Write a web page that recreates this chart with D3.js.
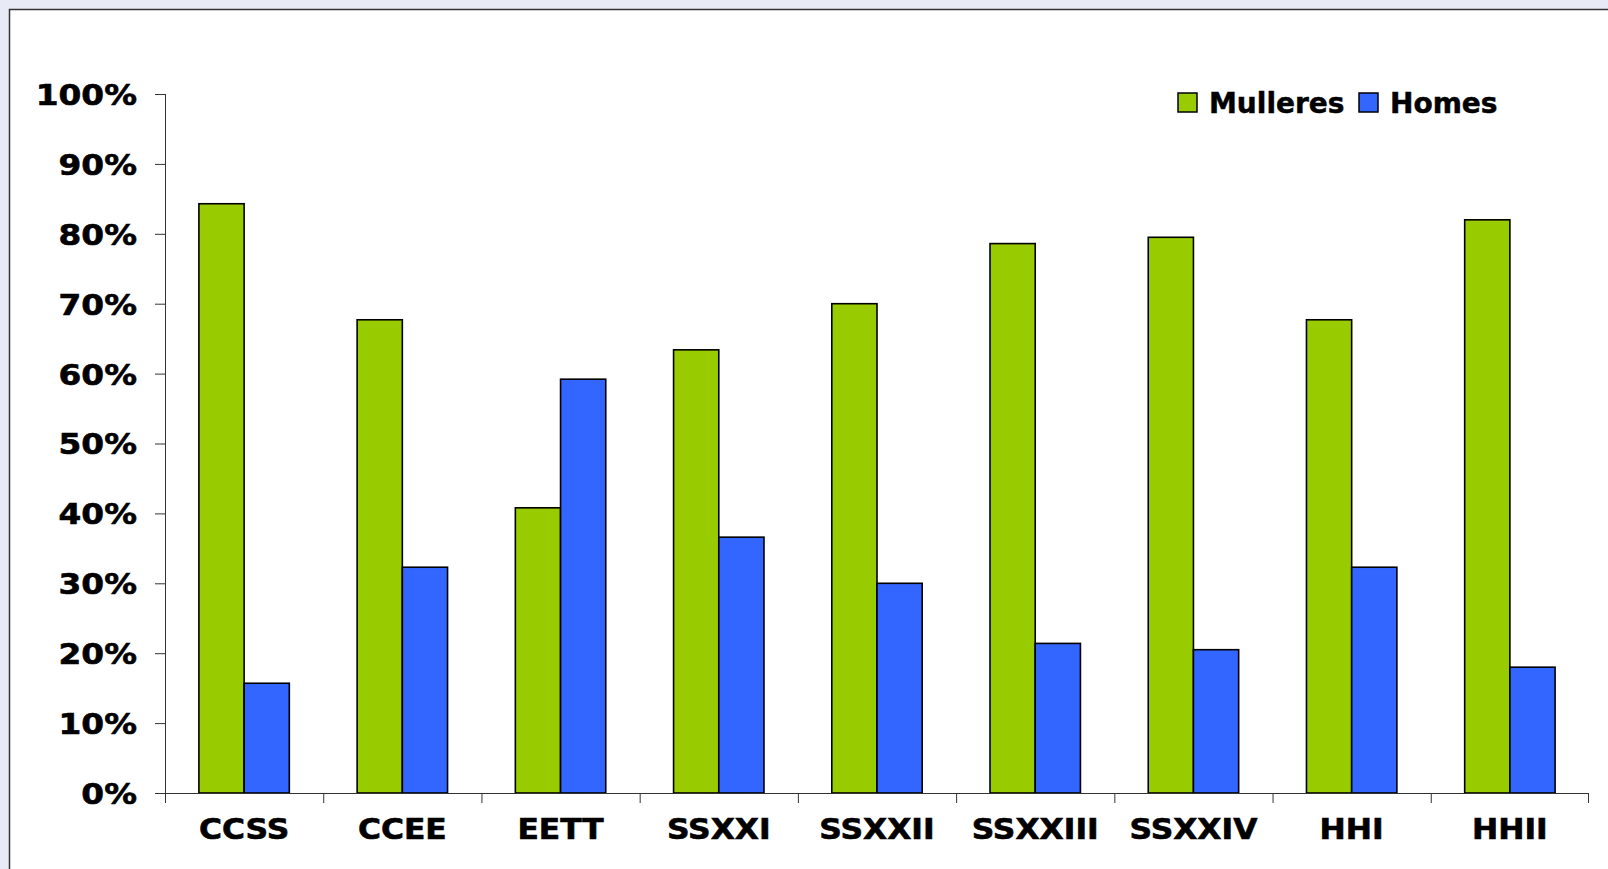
<!DOCTYPE html>
<html>
<head>
<meta charset="utf-8">
<script src="https://cdn.jsdelivr.net/npm/d3@7"></script>
<style>
  body { margin: 0; background: #e8eaf6; overflow: hidden; }
  svg { display: block; }
  text { font-family: "DejaVu Sans", Verdana, sans-serif; font-weight: bold; fill: #000; }
</style>
</head>
<body>
<div id="chart"></div>
<script>
// chart data
var categories = ["CCSS", "CCEE", "EETT", "SSXXI", "SSXXII", "SSXXIII", "SSXXIV", "HHI", "HHII"];
var mulleres = [84.3, 67.7, 40.8, 63.4, 70.0, 78.6, 79.5, 67.7, 82.0];
var homes = [15.7, 32.3, 59.2, 36.6, 30.0, 21.4, 20.5, 32.3, 18.0];
var seriesNames = ["Mulleres", "Homes"];
var seriesColors = ["#99cc00", "#3366ff"];
var yTicks = [0, 10, 20, 30, 40, 50, 60, 70, 80, 90, 100];

var svgWidth = 1608;
var svgHeight = 869;

var margin = { top: 94, right: 19, bottom: 76, left: 165 };
var width = svgWidth - margin.left - margin.right;
var height = svgHeight - margin.top - margin.bottom;

var svg = d3.select("#chart")
  .append("svg")
  .attr("width", svgWidth)
  .attr("height", svgHeight);

// white panel with frame
svg.append("rect")
  .attr("x", 9.5)
  .attr("y", 9.5)
  .attr("width", svgWidth)
  .attr("height", svgHeight)
  .attr("fill", "#fff")
  .attr("stroke", "#333")
  .attr("stroke-width", 1.5);

var chartGroup = svg.append("g")
  .attr("transform", `translate(${margin.left}, ${margin.top})`);

// scales
var xScale = d3.scaleBand()
  .domain(categories)
  .range([0, width])
  .padding(0);

var barWidth = xScale.bandwidth() / 3.5;
var gap = (xScale.bandwidth() - 2 * barWidth) / 2;

var yScale = d3.scaleLinear()
  .domain([0, 100])
  .range([height, 0]);

// rows for the grouped bars
var rows = categories.map(function(c, i) {
  return { cat: c, values: [mulleres[i], homes[i]] };
});

var groups = chartGroup.selectAll(".grp")
  .data(rows)
  .enter()
  .append("g")
  .attr("class", "grp")
  .attr("transform", d => `translate(${xScale(d.cat) + gap}, 0)`);

groups.selectAll("rect")
  .data(d => d.values)
  .enter()
  .append("rect")
  .attr("x", (d, i) => i * barWidth)
  .attr("y", d => yScale(d))
  .attr("width", barWidth)
  .attr("height", d => height - yScale(d))
  .attr("fill", (d, i) => seriesColors[i])
  .attr("stroke", "#000")
  .attr("stroke-width", 1.6);

// y axis
var leftAxis = d3.axisLeft(yScale)
  .tickValues(yTicks)
  .tickSize(10)
  .tickPadding(14)
  .tickFormat(d => d + "%");

var yAxis = chartGroup.append("g")
  .call(leftAxis);
yAxis.select(".domain").attr("stroke", "#333").attr("d", `M0.5,0V${height}`);
yAxis.selectAll(".tick line").attr("stroke", "#333");
// Verdana-like wide digits: stretch DejaVu horizontally
yAxis.selectAll("text")
  .attr("x", 0)
  .attr("transform", "translate(-28,0) scale(1.13,1)")
  .attr("font-size", "29px")
  .attr("dy", "0.36em")
  .attr("stroke", "#000")
  .attr("stroke-width", 0.6);

// x axis
var bottomAxis = d3.axisBottom(xScale)
  .tickSize(0)
  .tickPadding(26);

var xAxis = chartGroup.append("g")
  .attr("transform", `translate(0, ${height})`)
  .call(bottomAxis);
xAxis.select(".domain").attr("stroke", "#333").attr("d", `M-10,0.5H${width}`);
xAxis.selectAll("text")
  .attr("font-size", "27.5px")
  .attr("dy", "0.71em")
  .attr("transform", "scale(1.14,1)")
  .attr("stroke", "#000")
  .attr("stroke-width", 0.6);

// category separators
chartGroup.append("g")
  .selectAll("line")
  .data(categories.concat(["end"]))
  .enter()
  .append("line")
  .attr("x1", (d, i) => i < categories.length ? xScale(d) + 0.5 : width - 0.5)
  .attr("x2", (d, i) => i < categories.length ? xScale(d) + 0.5 : width - 0.5)
  .attr("y1", height)
  .attr("y2", height + 10)
  .attr("stroke", "#333");

// legend
var legend = svg.append("g")
  .attr("transform", "translate(1178, 93)");

var legendX = [0, 181];
seriesNames.forEach(function(name, i) {
  legend.append("rect")
    .attr("x", legendX[i])
    .attr("y", 0)
    .attr("width", 19)
    .attr("height", 19)
    .attr("fill", seriesColors[i])
    .attr("stroke", "#000")
    .attr("stroke-width", 1.5);
  legend.append("text")
    .attr("x", legendX[i] + 31)
    .attr("y", 20)
    .attr("font-size", "28px")
    .attr("stroke", "#000")
    .attr("stroke-width", 0.5)
    .text(name);
});
</script>
</body>
</html>
